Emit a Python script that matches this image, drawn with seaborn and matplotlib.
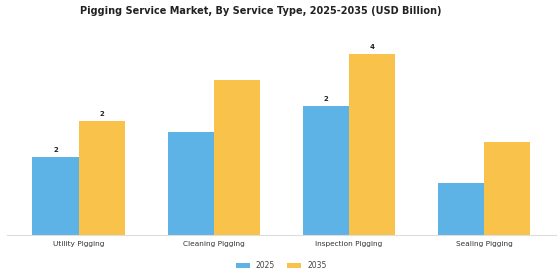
import matplotlib
matplotlib.use("Agg")
import matplotlib.pyplot as plt
import seaborn as sns
import pandas as pd

categories = ["Utility Pigging", "Cleaning Pigging", "Inspection Pigging", "Sealing Pigging"]
years = ["2025", "2035"]
values_2025 = [1.5, 2.0, 2.5, 1.0]
values_2035 = [2.2, 3.0, 3.5, 1.8]
labeled = {("Utility Pigging", "2025"), ("Utility Pigging", "2035"),
           ("Inspection Pigging", "2025"), ("Inspection Pigging", "2035")}

df = pd.DataFrame({
    "Service": categories * 2,
    "Year": ["2025"] * 4 + ["2035"] * 4,
    "Value": values_2025 + values_2035,
})

sns.set_style("white")
plt.rcParams["font.family"] = ["DejaVu Sans"]

fig = plt.figure(figsize=(5.6, 2.8), dpi=100)
ax = fig.add_axes([0.0125, 45 / 280, 0.98, 195 / 280])

palette = {"2025": "#5DB3E6", "2035": "#F9C24A"}
sns.barplot(data=df, x="Service", y="Value", hue="Year", hue_order=years,
            order=categories, palette=palette, width=0.685, saturation=1,
            linewidth=0, edgecolor="none", ax=ax, legend=True)

for container, yr in zip(ax.containers, years):
    for bar, cat in zip(container, categories):
        if (cat, yr) in labeled:
            h = bar.get_height()
            ax.text(bar.get_x() + bar.get_width() / 2, h + 0.08, f"{h:.0f}",
                    ha="center", va="bottom", fontsize=5, fontweight="bold",
                    color="#222222")

ax.set_xlim(-0.53, 3.53)
ax.set_ylim(0, 3.77)
ax.set_yticks([])
ax.set_xlabel("")
ax.set_ylabel("")
for s in ["top", "right", "left"]:
    ax.spines[s].set_visible(False)
ax.spines["bottom"].set_color("#dddddd")
ax.spines["bottom"].set_linewidth(0.8)
ax.tick_params(axis="x", labelsize=5.3, colors="#333333", length=2, width=0.6, pad=2)

leg = ax.legend(loc="upper center", bbox_to_anchor=(0.5, -0.1), ncol=2,
                frameon=False, fontsize=5.5, handlelength=1.8, handleheight=0.7,
                columnspacing=1.6, handletextpad=0.8)
for t in leg.get_texts():
    t.set_color("#444444")

fig.text(261 / 560, 1 - 11 / 280,
         "Pigging Service Market, By Service Type, 2025-2035 (USD Billion)",
         fontsize=7, fontweight="bold", ha="center", va="center", color="#222222")

fig.savefig("out.png", dpi=100)
